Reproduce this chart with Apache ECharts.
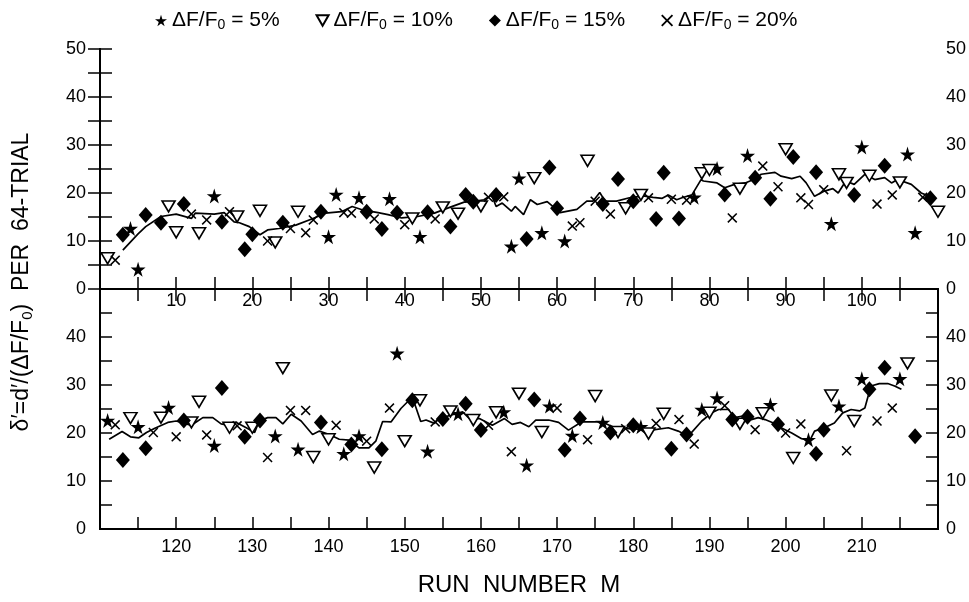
<!DOCTYPE html>
<html>
<head>
    <meta charset="utf-8">
    <title>Run number</title>
    <script src="https://cdn.jsdelivr.net/npm/echarts@6/dist/echarts.min.js"></script>
    <style>
        html, body { margin: 0; padding: 0; background: #fff; }
    </style>
</head>
<body>
<div id="main" style="width: 969px;height:602px"></div>
<script type="text/javascript">
    // top panel, runs 0-110  [run, value]
    var topStar = [[4,12.6],[5,4.1],[15,19.4],[30,10.9],[31,19.7],[34,19.0],[38,18.8],[42,10.9],[54,8.9],[55,23.1],[58,11.7],[61,10.0],[78,19.1],[81,25.1],[85,27.8],[96,13.6],[100,29.6],[106,28.1],[107,11.7]];
    var topTri = [[1,6.4],[9,17.2],[10,11.8],[13,11.6],[18,15.1],[21,16.3],[23,9.7],[26,16.1],[41,14.7],[45,17.0],[47,15.7],[50,17.2],[57,23.1],[64,26.7],[69,16.8],[71,19.6],[79,24.1],[80,24.8],[84,20.9],[90,29.1],[97,23.9],[98,22.1],[101,23.6],[105,22.2],[110,16.1]];
    var topDia = [[3,11.3],[6,15.4],[8,13.8],[11,17.7],[16,14.0],[19,8.3],[20,11.4],[24,13.8],[29,16.1],[35,16.1],[37,12.5],[39,15.9],[43,16.0],[46,13.0],[48,19.6],[49,18.2],[52,19.6],[56,10.4],[59,25.3],[60,16.8],[66,17.7],[68,22.9],[70,18.3],[73,14.6],[74,24.2],[76,14.7],[82,19.7],[86,23.2],[88,18.8],[91,27.5],[94,24.3],[99,19.6],[103,25.7],[109,18.9]];
    var topCross = [[2,6.0],[12,15.6],[14,14.4],[17,16.1],[22,10.0],[25,12.6],[27,11.7],[28,14.4],[32,15.9],[33,15.8],[36,14.6],[40,13.4],[44,14.6],[51,19.1],[53,19.2],[62,13.1],[63,13.8],[65,18.3],[67,15.6],[72,19.0],[75,18.7],[77,18.5],[83,14.8],[87,25.6],[89,21.3],[92,19.0],[93,17.6],[95,20.7],[102,17.7],[104,19.6],[108,19.1]];
    var topAvg = [[3,8.1],[5,11.5],[6,13],[8,15.1],[10,15.6],[12,14.7],[12.5,15.8],[15,15.6],[16.3,15.9],[17.6,14.0],[18.3,13.8],[19.6,13],[21,11.3],[22,12.3],[23.5,12.6],[25.7,13.3],[27.8,14.6],[29.6,15.8],[31.7,16.1],[33.1,17.2],[34.4,16.5],[36.5,15.9],[37.8,15.5],[39.6,14.8],[41.7,15.1],[43.9,15.8],[45.9,17.0],[47.8,18.1],[48.9,18.2],[50.4,18.6],[51.4,19.6],[52,17.2],[52.8,17.9],[54,16.2],[54.5,17.2],[55.6,15.5],[56.5,18.6],[57.4,17.6],[58.7,18.2],[60.4,15.9],[62.6,16.6],[63.9,18.3],[64.7,18.3],[65.6,20.1],[66.3,18.3],[67.8,18.3],[69.5,19.0],[71.3,19.4],[72.6,19.1],[73.8,18.9],[74.6,19.6],[75.7,18.6],[76.4,19.0],[77.7,19.6],[78.9,22.8],[79.2,22.5],[81,22.1],[82,21.1],[83.3,21.8],[84.7,22.1],[85.8,22.8],[86.8,23.9],[88.6,24.3],[89.4,23.5],[90.8,23.0],[91.9,23.5],[92.7,22.1],[93.8,19.3],[95.1,20.4],[96.2,20.9],[96.9,20.0],[97.9,22.5],[99,21.8],[100.4,23.9],[101.7,22.8],[103,23.2],[103.9,22.1],[104.7,22.8],[106.5,21.8],[107.8,20.0],[108.9,19.3],[109.5,19.0]];

    // bottom panel, runs 110-220
    var botStar = [[111,22.6],[115,21.3],[119,25.3],[125,17.4],[133,19.4],[136,16.6],[142,15.7],[144,19.4],[149,36.6],[153,16.2],[157,24.0],[163,24.4],[166,13.3],[169,25.6],[172,19.5],[176,22.2],[181,21.3],[189,24.9],[191,27.3],[198,25.9],[203,18.6],[207,25.6],[210,31.3],[215,31.3]];
    var botTri = [[114,23.1],[118,23.2],[122,22.2],[123,26.5],[127,21.1],[130,21.1],[134,33.5],[138,15.0],[140,18.7],[146,12.8],[150,18.3],[152,26.8],[156,24.5],[159,22.7],[162,24.3],[165,28.2],[168,20.2],[175,27.7],[178,20.2],[182,19.9],[184,24.0],[190,24.2],[194,21.9],[197,24.1],[201,14.8],[206,27.8],[209,22.5],[216,34.5]];
    var botDia = [[113,14.4],[116,16.8],[121,22.6],[126,29.4],[129,19.2],[131,22.6],[139,22.2],[143,17.6],[147,16.6],[151,26.8],[155,22.9],[158,26.1],[160,20.6],[167,27.0],[171,16.5],[173,23.0],[177,20.1],[180,21.6],[185,16.7],[187,19.7],[193,22.8],[195,23.4],[199,21.8],[204,15.7],[205,20.7],[211,29.1],[213,33.6],[217,19.3]];
    var botCross = [[112,21.7],[117,20.1],[120,19.2],[124,19.6],[128,21.5],[132,14.9],[135,24.7],[137,24.7],[141,21.6],[145,18.3],[148,25.2],[154,22.3],[161,21.6],[164,16.1],[170,25.2],[174,18.6],[179,20.9],[183,22.0],[186,22.8],[188,17.7],[192,25.7],[196,20.7],[200,20.0],[202,21.9],[208,16.3],[212,22.5],[214,25.2]];
    var botAvg = [[111.2,18.7],[112.9,20.3],[114,19.2],[115.1,19.0],[116.1,20.1],[117.2,21.0],[118.9,22.2],[120,22.5],[122,21.6],[123.5,23.2],[124.8,23.2],[125.9,21.9],[126.6,21.7],[127.9,22.2],[129.2,21.1],[130.3,20.1],[130.9,22.5],[132,23.2],[133.1,23.2],[134,21.9],[135.1,23.9],[136.4,22.5],[137.9,19.7],[138.8,20.4],[140.1,19.7],[141.4,18.7],[142.7,18.5],[144,16.9],[145.3,16.9],[146.2,18.3],[147.1,22.4],[148.2,22.3],[149.5,25.1],[151,27.5],[152.1,22.4],[152.8,22.7],[153.9,22.0],[154.5,23.0],[156.7,24.0],[157.6,24.4],[158.5,23.0],[159.8,23.0],[161.5,21.6],[163.1,23.0],[164.1,21.8],[165.2,22.2],[166.3,21.3],[167.2,22.7],[168.9,22.7],[170.2,22.2],[171.5,20.6],[173.2,22.3],[175.9,22.3],[177.6,21.1],[179.4,20.9],[180.7,20.8],[182.4,20.6],[184.6,21.1],[185.9,20.4],[187.2,19.3],[189,22.5],[190.3,24.2],[191.2,24.9],[192.5,24.9],[193.3,23.2],[194.4,23.5],[195.5,22.8],[196.4,23.2],[197.3,22.8],[198.4,22.1],[199.4,21.1],[200.8,20.0],[202.1,18.8],[203.2,18.5],[203.8,20.4],[205.1,21.1],[206.4,22.1],[207.5,24.2],[208.6,24.9],[209.7,24.6],[210.4,25.2],[211.2,29.8],[212.3,30.3],[213.4,30.3],[214.3,29.8],[215.2,29.1]];

    var seriesNames = ['5%', '10%', '15%', '20%'];
    var xRanges = [[0, 110], [110, 220]];

    var STAR = 'path://M50,0 L61,35 L98,35 L68,57 L79,91 L50,70 L21,91 L32,57 L2,35 L39,35 Z';
    var TRI_DOWN = 'path://M0,0 L100,0 L50,86 Z';
    var CROSS = 'path://M0,11 L11,0 L50,39 L89,0 L100,11 L61,50 L100,89 L89,100 L50,61 L11,100 L0,89 L39,50 Z';

    var FONT = 'Liberation Sans';
    var myChart = echarts.init(document.getElementById('main'));

    function xAxes(i) {
        var r = xRanges[i];
        return [{
            type: 'value', gridIndex: i, min: r[0], max: r[1], interval: 5,
            axisLine: { lineStyle: { color: '#000', width: 2 } },
            axisTick: { inside: true, length: 12, lineStyle: { color: '#000', width: 1.5 } },
            splitLine: { show: false },
            axisLabel: {
                color: '#000', fontFamily: FONT, fontSize: 18, margin: i === 0 ? 3 : 9,
                showMinLabel: false, showMaxLabel: false,
                formatter: function (v) { return v % 10 === 0 ? v : ''; }
            },
            name: i === 1 ? 'RUN  NUMBER  M' : '',
            nameLocation: 'middle', nameGap: 44,
            nameTextStyle: { color: '#000', fontFamily: FONT, fontSize: 24 }
        }, {
            type: 'value', gridIndex: i, min: r[0], max: r[1], interval: 5, position: 'top',
            axisLine: { lineStyle: { color: '#000', width: 2 } },
            axisTick: { show: i === 0, inside: true, length: 12, lineStyle: { color: '#000', width: 1.5 } },
            axisLabel: { show: false },
            splitLine: { show: false }
        }];
    }

    function yAxes(i) {
        var common = {
            type: 'value', gridIndex: i, min: 0, max: 50, interval: 5,
            axisLine: { show: true, lineStyle: { color: '#000', width: 2 } },
            axisTick: { show: true, inside: true, length: 12, lineStyle: { color: '#000', width: 1.5 } },
            splitLine: { show: false }
        };
        var lbl = {
            color: '#000', fontFamily: FONT, fontSize: 18,
            formatter: function (v) {
                if (v % 10 !== 0) return '';
                if (i === 1 && v === 50) return '';
                return v;
            }
        };
        return [
            Object.assign({}, common, { position: 'left', axisLabel: Object.assign({ margin: 14 }, lbl) }),
            Object.assign({}, common, { position: 'right', axisLabel: Object.assign({ margin: 8 }, lbl) })
        ];
    }

    function scatter(name, data, i, symbol, size, style) {
        return {
            name: name, type: 'scatter', xAxisIndex: i * 2, yAxisIndex: i * 2,
            data: data, symbol: symbol, symbolSize: size,
            itemStyle: style, silent: true, z: 3
        };
    }

    var filled = { color: '#000', opacity: 1 };
    var hollow = { color: '#fff', borderColor: '#000', borderWidth: 1.6, opacity: 1 };

    var series = [];
    [[topStar, topTri, topDia, topCross, topAvg], [botStar, botTri, botDia, botCross, botAvg]].forEach(function (p, i) {
        series.push({
            type: 'line', xAxisIndex: i * 2, yAxisIndex: i * 2, data: p[4],
            showSymbol: false, silent: true, z: 2,
            lineStyle: { color: '#000', width: 1.7, opacity: 1 }
        });
        series.push(scatter(seriesNames[0], p[0], i, STAR, 15, filled));
        series.push(scatter(seriesNames[1], p[1], i, TRI_DOWN, [13, 11], hollow));
        series.push(scatter(seriesNames[2], p[2], i, 'diamond', [14, 16], filled));
        series.push(scatter(seriesNames[3], p[3], i, CROSS, 10, filled));
    });

    var option = {
        animation: false,
        backgroundColor: '#fff',
        textStyle: { fontFamily: FONT },
        legend: {
            data: seriesNames,
            top: 5, left: 150,
            itemWidth: 12, itemHeight: 12, itemGap: 36,
            selectedMode: false,
            formatter: function (name) { return 'ΔF/F{s|0} = ' + name; },
            textStyle: {
                color: '#000', fontFamily: FONT, fontSize: 21,
                rich: { s: { fontSize: 14, fontFamily: FONT, color: '#000', padding: [10, 0, 0, 0] } }
            }
        },
        grid: [
            { left: 100, right: 28, top: 49, height: 240 },
            { left: 100, right: 28, top: 289, height: 240 }
        ],
        xAxis: xAxes(0).concat(xAxes(1)),
        yAxis: yAxes(0).concat(yAxes(1)),
        graphic: [{
            type: 'text', x: 22, y: 282, rotation: Math.PI / 2,
            style: {
                text: 'δ′=d′/(ΔF/F{s|0})  PER  64-TRIAL',
                fill: '#000', fontFamily: FONT, fontSize: 23,
                align: 'center', verticalAlign: 'middle',
                rich: { s: { fontSize: 15, fontFamily: FONT, fill: '#000', padding: [11, 0, 0, 0] } }
            }
        }],
        series: series
    };

    myChart.setOption(option);
</script>
</body>
</html>
